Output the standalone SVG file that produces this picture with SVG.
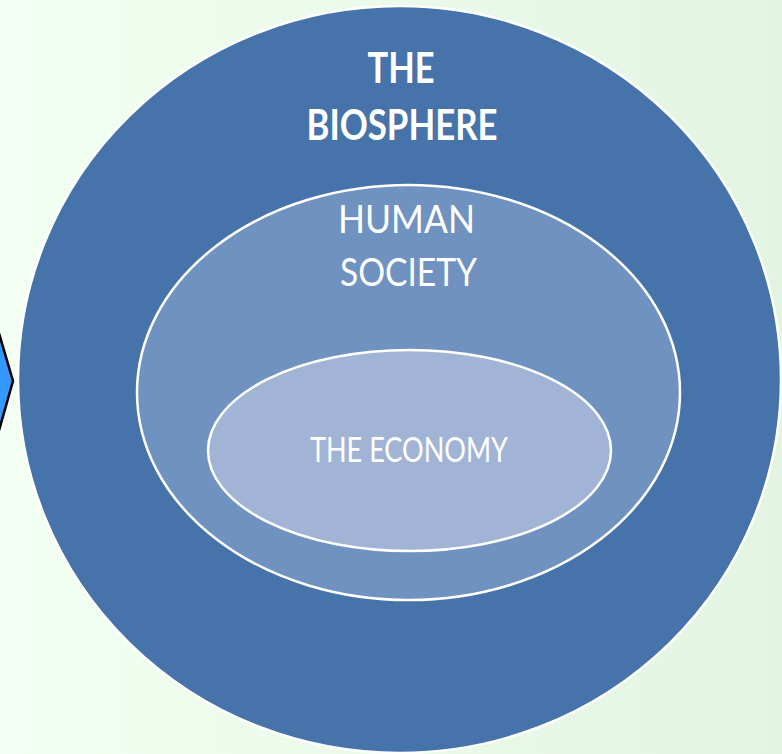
<svg xmlns="http://www.w3.org/2000/svg" width="782" height="754" viewBox="0 0 782 754">
<defs>
<linearGradient id="bg" x1="0" y1="0" x2="1" y2="0">
<stop offset="0" stop-color="#F2FFF2"/>
<stop offset="1" stop-color="#E3F4E3"/>
</linearGradient>
<style>
.lbl{font-family:Lato,"Liberation Sans",sans-serif;fill:#FFFFFF;text-anchor:middle}
.ring{stroke:#FFFFFF;stroke-width:2.5}
</style>
</defs>
<rect x="0" y="0" width="782" height="754" fill="url(#bg)"/>
<g id="arrow">
<polygon points="-2,330 13,381 -2,434" fill="#3399FF" stroke="#000000" stroke-width="2.5"/>
</g>
<g id="biosphere">
<ellipse class="ring" cx="399.5" cy="379.5" rx="381.5" ry="373.5" fill="#4673A9"/>
<text class="lbl" x="401" y="83" font-size="42" font-weight="bold" textLength="67" lengthAdjust="spacingAndGlyphs">THE</text>
<text class="lbl" x="402" y="140" font-size="42" font-weight="bold" textLength="191" lengthAdjust="spacingAndGlyphs">BIOSPHERE</text>
</g>
<g id="society">
<ellipse class="ring" cx="408.5" cy="392.5" rx="271.5" ry="207.5" fill="#7092C1"/>
<text class="lbl" x="406.5" y="233" font-size="38" textLength="137" lengthAdjust="spacingAndGlyphs">HUMAN</text>
<text class="lbl" x="408.5" y="286" font-size="38" textLength="137" lengthAdjust="spacingAndGlyphs">SOCIETY</text>
</g>
<g id="economy">
<ellipse class="ring" cx="409.5" cy="450.5" rx="201.5" ry="100.5" fill="#A2B4D5"/>
<text class="lbl" x="409" y="462" font-size="34" textLength="198" lengthAdjust="spacingAndGlyphs">THE ECONOMY</text>
</g>
<g id="connectors"/>
</svg>
